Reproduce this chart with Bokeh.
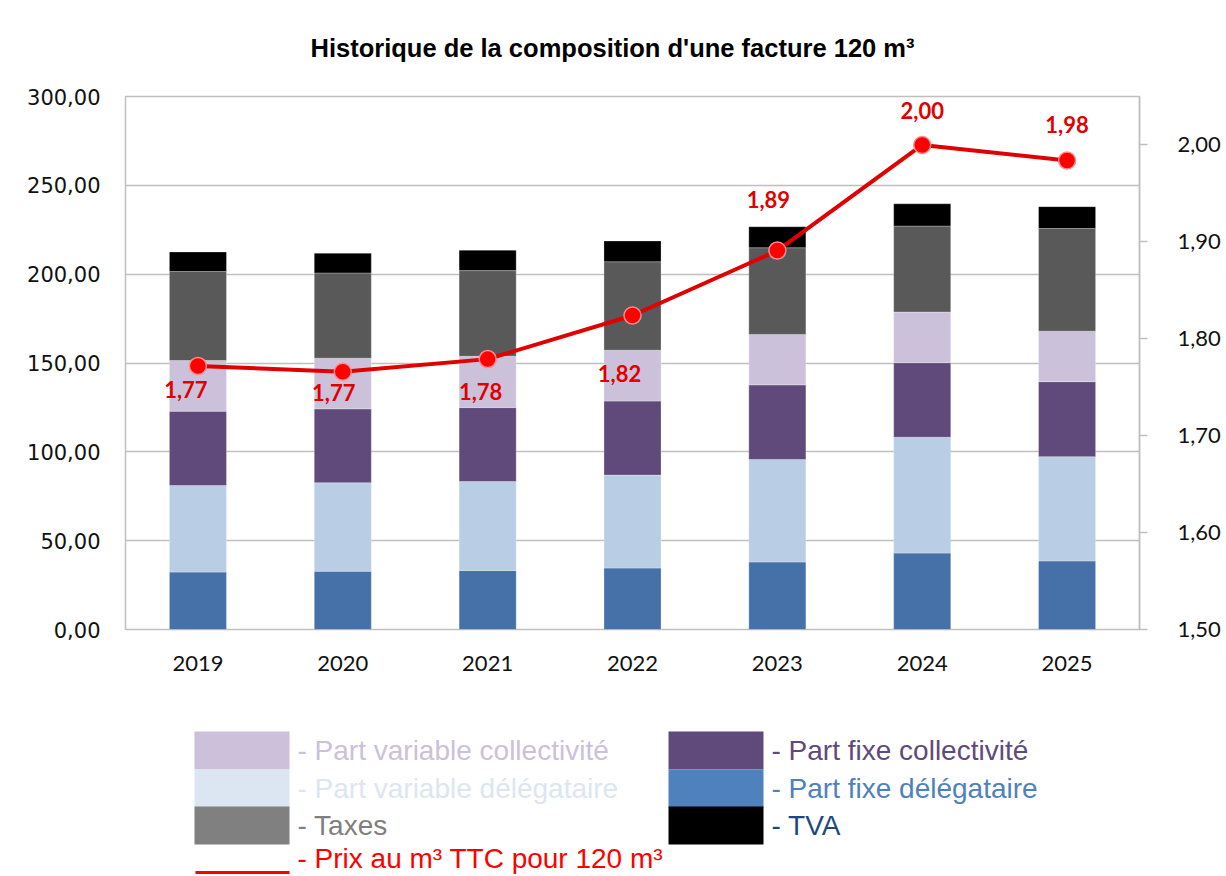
from bokeh.plotting import figure
from bokeh.models import (FactorRange, Range1d, LinearAxis, FixedTicker,
                          CustomJSTickFormatter, ColumnDataSource, LabelSet)
from bokeh.layouts import column
from bokeh.embed import file_html
from bokeh.resources import INLINE
from bokeh.core.properties import value

# ---------------- data ----------------
years = ["2019", "2020", "2021", "2022", "2023", "2024", "2025"]
part_fixe_delegataire = [32.3, 32.8, 33.2, 34.6, 38.0, 43.0, 38.6]
part_variable_delegataire = [48.7, 49.8, 50.1, 52.3, 57.7, 65.2, 58.7]
part_fixe_collectivite = [41.9, 41.6, 41.6, 41.7, 42.0, 42.0, 42.2]
part_variable_collectivite = [28.5, 28.5, 28.9, 28.6, 28.4, 28.5, 28.4]
taxes = [50.1, 48.0, 48.2, 49.8, 48.8, 48.4, 57.8]
tva = [11.0, 11.1, 11.5, 11.7, 11.8, 12.5, 12.3]
prix_m3 = [1.772, 1.766, 1.779, 1.824, 1.891, 2.000, 1.984]

left_ticks = [0, 50, 100, 150, 200, 250, 300]
right_ticks = [1.5, 1.6, 1.7, 1.8, 1.9, 2.0]

series_names = ["fixe_del", "var_del", "fixe_col", "var_col", "taxes", "tva"]
bar_colors = ["#4671A8", "#B9CDE5", "#604A7B", "#CCC1DA", "#595959", "#000000"]

# label offsets (styling, screen pixels)
label_dx = [-12, -9, -7, -13, -9, 0, 0]
label_dy = [-24, -21, -32, -58, 51, 34, 36]

W = 1224
BL, BR = 125, W - 1139
TITLE_H = 74
MAIN_H = 621
LEG_H = 181

# ---------------- title (pixel space) ----------------
tf = figure(width=W, height=TITLE_H, x_range=Range1d(125, 1139),
            y_range=Range1d(TITLE_H, 0), output_backend="svg",
            toolbar_location=None, min_border_left=BL, min_border_right=BR,
            min_border_top=0, min_border_bottom=0)
tf.axis.visible = False
tf.grid.visible = False
tf.outline_line_color = None
tf.text(x=[612], y=[47], text=["Historique de la composition d'une facture 120 m³"],
        text_font=value("Liberation Sans"), text_font_style="bold",
        text_font_size="25.5px", text_color="#000000", text_align="center",
        text_baseline="middle")

# ---------------- main chart ----------------
src = ColumnDataSource(dict(
    years=years,
    fixe_del=part_fixe_delegataire,
    var_del=part_variable_delegataire,
    fixe_col=part_fixe_collectivite,
    var_col=part_variable_collectivite,
    taxes=taxes,
    tva=tva,
    prix=prix_m3,
    prix_txt=[("%.2f" % v).replace(".", ",") for v in prix_m3],
    dx=label_dx,
    dy=label_dy,
))

p = figure(x_range=FactorRange(factors=years), y_range=Range1d(0, 300),
           width=W, height=MAIN_H, output_backend="svg", toolbar_location=None,
           min_border_left=BL, min_border_right=BR, min_border_top=96 - TITLE_H,
           min_border_bottom=MAIN_H - (629 - TITLE_H))
p.extra_y_ranges = {"right": Range1d(1.5, 2.05)}

p.outline_line_color = "#BFBFBF"
p.outline_line_width = 1.5
p.xgrid.grid_line_color = None
p.ygrid.ticker = FixedTicker(ticks=left_ticks)
p.ygrid.grid_line_color = "#BFBFBF"
p.ygrid.grid_line_width = 1.5

p.vbar_stack(series_names, x="years", width=0.394, color=bar_colors,
             source=src, line_color="white", line_alpha=0.35, line_width=0.8)

p.line(x="years", y="prix", source=src, y_range_name="right",
       line_color="#E00000", line_width=4)
p.scatter(x="years", y="prix", source=src, y_range_name="right", size=17,
          fill_color="#FF0000", line_color="#FF8C8C", line_width=1.5)

labels = LabelSet(x="years", y="prix", text="prix_txt", source=src,
                  y_range_name="right", x_offset="dx", y_offset="dy",
                  text_align="center", text_baseline="middle",
                  text_font=value("Lato"), text_font_style="bold",
                  text_font_size="22px", text_color="#E00000")
p.add_layout(labels)

fmt = CustomJSTickFormatter(code="return tick.toFixed(2).replace('.', ',');")

yl = p.yaxis[0]
yl.ticker = FixedTicker(ticks=left_ticks)
yl.formatter = fmt
yl.axis_line_color = None
yl.major_tick_line_color = None
yl.minor_tick_line_color = None
yl.major_tick_out = 0
yl.major_tick_in = 0
yl.major_label_standoff = 25
yl.major_label_text_font = "DejaVu Sans"
yl.major_label_text_font_size = "21px"
yl.major_label_text_color = "#111111"

yr = LinearAxis(y_range_name="right", ticker=FixedTicker(ticks=right_ticks),
                formatter=fmt)
yr.axis_line_color = "#BFBFBF"
yr.axis_line_width = 1.5
yr.major_tick_line_color = "#BFBFBF"
yr.major_tick_line_width = 1.5
yr.major_tick_out = 8
yr.major_tick_in = 0
yr.minor_tick_line_color = None
yr.major_label_standoff = 30
yr.major_label_text_font = "Lato"
yr.major_label_text_font_size = "22px"
yr.major_label_text_color = "#111111"
p.add_layout(yr, "right")

xa = p.xaxis[0]
xa.axis_line_color = None
xa.major_tick_line_color = None
xa.minor_tick_line_color = None
xa.major_tick_out = 0
xa.major_tick_in = 0
xa.major_label_standoff = 26
xa.major_label_text_font = "Lato"
xa.major_label_text_font_size = "22px"
xa.major_label_text_color = "#111111"

# ---------------- legend (pixel space) ----------------
Y0 = TITLE_H + MAIN_H
lg = figure(width=W, height=LEG_H, x_range=Range1d(125, 1139),
            y_range=Range1d(Y0 + LEG_H, Y0), output_backend="svg",
            toolbar_location=None, min_border_left=BL, min_border_right=BR,
            min_border_top=0, min_border_bottom=0)
lg.axis.visible = False
lg.grid.visible = False
lg.outline_line_color = None

leg_names = ["- Part variable collectivité", "- Part variable délégataire", "- Taxes",
             "- Part fixe collectivité", "- Part fixe délégataire", "- TVA"]
leg_swatch = ["#CCC0DA", "#DCE6F2", "#808080", "#604A7B", "#4F81BD", "#000000"]
leg_text_col = ["#CCC0DA", "#DCE6F2", "#7F7F7F", "#604A7B", "#4F81BD", "#1F497D"]
col_x = [194, 194, 194, 668, 668, 668]
row_top = [731, 769, 806, 731, 769, 806]

lg.quad(left=col_x, right=[c + 95 for c in col_x], top=row_top,
        bottom=[r + 38 for r in row_top], fill_color=leg_swatch, line_color=None)
lg.text(x=[c + 103 for c in col_x], y=[r + 19 for r in row_top], text=leg_names,
        text_color=leg_text_col, text_font=value("Liberation Sans"),
        text_font_size="28px", text_align="left", text_baseline="middle")
lg.line(x=[195, 289], y=[872, 872], line_color="#FF0000", line_width=3)
lg.text(x=[297], y=[858], text=["- Prix au m³ TTC pour 120 m³"],
        text_color="#FF0000", text_font=value("Liberation Sans"),
        text_font_size="28px", text_align="left", text_baseline="middle")

layout = column(tf, p, lg, spacing=0)
open("out.html", "w").write(file_html(layout, INLINE))
